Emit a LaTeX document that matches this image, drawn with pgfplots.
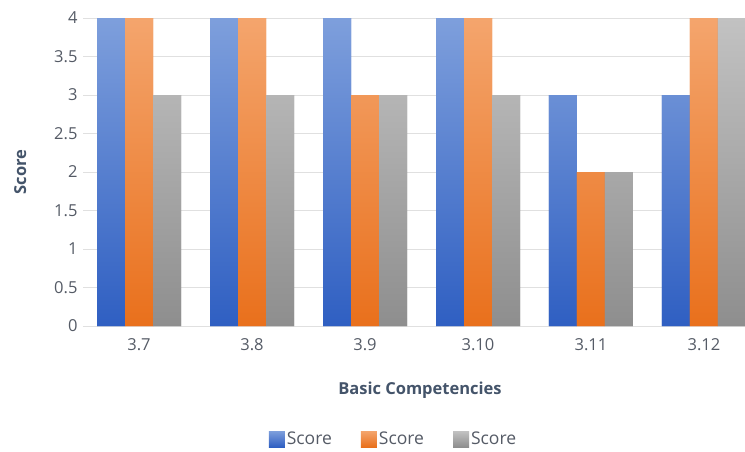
\documentclass[border=0pt]{standalone}
\usepackage{pgfplots}
\pgfplotsset{compat=1.18}
\usepackage{fontspec}
\setmainfont{Open Sans}
\definecolor{tickc}{HTML}{555B66}
\definecolor{labc}{HTML}{44546A}
\definecolor{gridc}{HTML}{E0E0E0}
\definecolor{bluetop}{HTML}{7E9FDC}
\definecolor{bluebot}{HTML}{2F5FC2}
\definecolor{orgtop}{HTML}{F4A56D}
\definecolor{orgbot}{HTML}{E9701C}
\definecolor{grytop}{HTML}{C2C2C2}
\definecolor{grybot}{HTML}{8E8E8E}
\begin{document}
\begin{tikzpicture}[x=1pt,y=1pt]
\useasboundingbox (0,0) rectangle (745,451);
\begin{axis}[
  at={(83pt,125pt)}, anchor=south west,
  scale only axis, width=662pt, height=308pt,
  ybar, bar width=28pt,
  xmin=-0.496, xmax=5.363, ymin=0, ymax=4,
  xtick={0,1,2,3,4,5},
  xticklabels={3.7,3.8,3.9,3.10,3.11,3.12},
  ytick={0,0.5,1,1.5,2,2.5,3,3.5,4},
  major tick length=0pt,
  axis line style={draw=none},
  ymajorgrids, grid style={gridc, line width=1pt},
  /pgf/number format/assume math mode=true,
  ticklabel style={font=\fontsize{16.5}{18}\selectfont, text=tickc},
  yticklabel style={xshift=-2pt},
  xticklabel style={yshift=-9pt},
  xlabel={\textbf{Basic Competencies}},
  ylabel={\textbf{Score}},
  label style={font=\fontsize{16.5}{18}\selectfont, text=labc},
  xlabel style={at={(axis description cs:0.509,-0.208)}, anchor=center},
  ylabel style={at={(axis description cs:-0.095,0.5)}, anchor=center},
  legend columns=3,
  legend style={at={(axis description cs:0.469,-0.367)}, anchor=center, draw=none,
    font=\fontsize{17.5}{19}\selectfont, text=tickc, inner xsep=0pt,
    /tikz/every even column/.append style={column sep=27pt}},
  legend image code/.code={\fill[#1] (0pt,-8pt) rectangle (16pt,8pt);},
  clip=true,
]
\draw[gridc, line width=1pt] (rel axis cs:0,0) -- (rel axis cs:1,0);
\addplot[draw=none, fill=bluebot, shading=axis, top color=bluetop, bottom color=bluebot, bar shift=-28pt]
  coordinates {(0,4) (1,4) (2,4) (3,4) (4,3) (5,3)};
\addplot[draw=none, fill=orgbot, shading=axis, top color=orgtop, bottom color=orgbot, bar shift=0pt]
  coordinates {(0,4) (1,4) (2,3) (3,4) (4,2) (5,4)};
\addplot[draw=none, fill=grybot, shading=axis, top color=grytop, bottom color=grybot, bar shift=28pt]
  coordinates {(0,3) (1,3) (2,3) (3,3) (4,2) (5,4)};
\legend{Score,Score,Score}
\end{axis}
\end{tikzpicture}
\end{document}
